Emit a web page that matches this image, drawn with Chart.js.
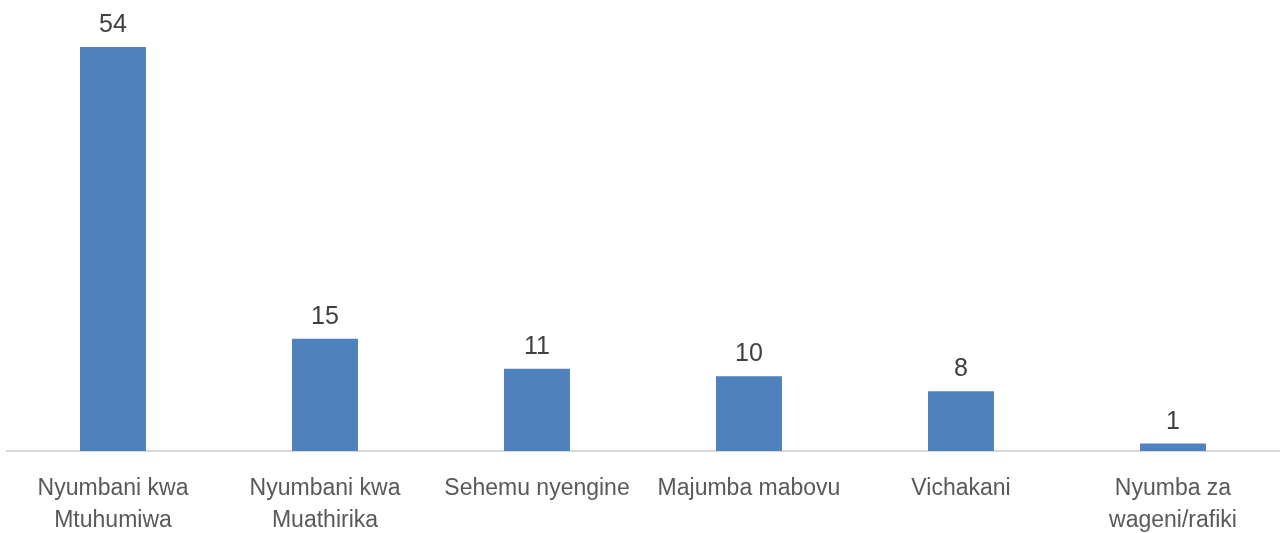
<!DOCTYPE html>
<html lang="en">
<head>
    <meta charset="UTF-8">
    <title>Mahali</title>
    <script src="https://cdn.jsdelivr.net/npm/chart.js"></script>
    <style>
        html, body { margin: 0; padding: 0; background: #ffffff; }
        .chart-container { width: 1285px; height: 533px; position: relative; }
    </style>
</head>
<body>
    <div class="chart-container">
        <canvas id="placeChart"></canvas>
    </div>

    <script>
        // data
        const categories = [
            ['Nyumbani kwa', 'Mtuhumiwa'],
            ['Nyumbani kwa', 'Muathirika'],
            'Sehemu nyengine',
            'Majumba mabovu',
            'Vichakani',
            ['Nyumba za', 'wageni/rafiki']
        ];
        const counts = [54, 15, 11, 10, 8, 1];

        // draws the number above each bar
        const valueLabels = {
            id: 'valueLabels',
            afterDatasetsDraw(chart) {
                const ctx = chart.ctx;
                const meta = chart.getDatasetMeta(0);
                ctx.save();
                ctx.font = '25px "Liberation Sans", Arial, sans-serif';
                ctx.fillStyle = '#404040';
                ctx.textAlign = 'center';
                ctx.textBaseline = 'alphabetic';
                meta.data.forEach((bar, i) => {
                    ctx.fillText(String(counts[i]), bar.x, bar.y - 15);
                });
                ctx.restore();
            }
        };

        let ctx = document.getElementById('placeChart').getContext('2d');

        new Chart(ctx, {
            type: 'bar',
            data: {
                labels: categories,
                datasets: [{
                    data: counts,
                    backgroundColor: '#4F81BD',
                    borderWidth: 0,
                    categoryPercentage: 1,
                    barPercentage: 0.311
                }]
            },
            options: {
                responsive: true,
                maintainAspectRatio: false,
                animation: false,
                layout: { padding: { top: 2, left: 7, right: 6, bottom: 0 } },
                plugins: {
                    legend: { display: false },
                    tooltip: { enabled: false }
                },
                scales: {
                    x: {
                        grid: { display: false },
                        border: { display: true, color: '#d9d9d9', width: 2 },
                        ticks: {
                            color: '#595959',
                            font: { family: '"Liberation Sans", Arial, sans-serif', size: 23, lineHeight: 1.42 },
                            maxRotation: 0,
                            autoSkip: false,
                            padding: 13
                        },
                        afterFit(scale) { scale.height = 82; }
                    },
                    y: {
                        display: false,
                        min: 0,
                        max: 60
                    }
                }
            },
            plugins: [valueLabels]
        });
    </script>
</body>
</html>
